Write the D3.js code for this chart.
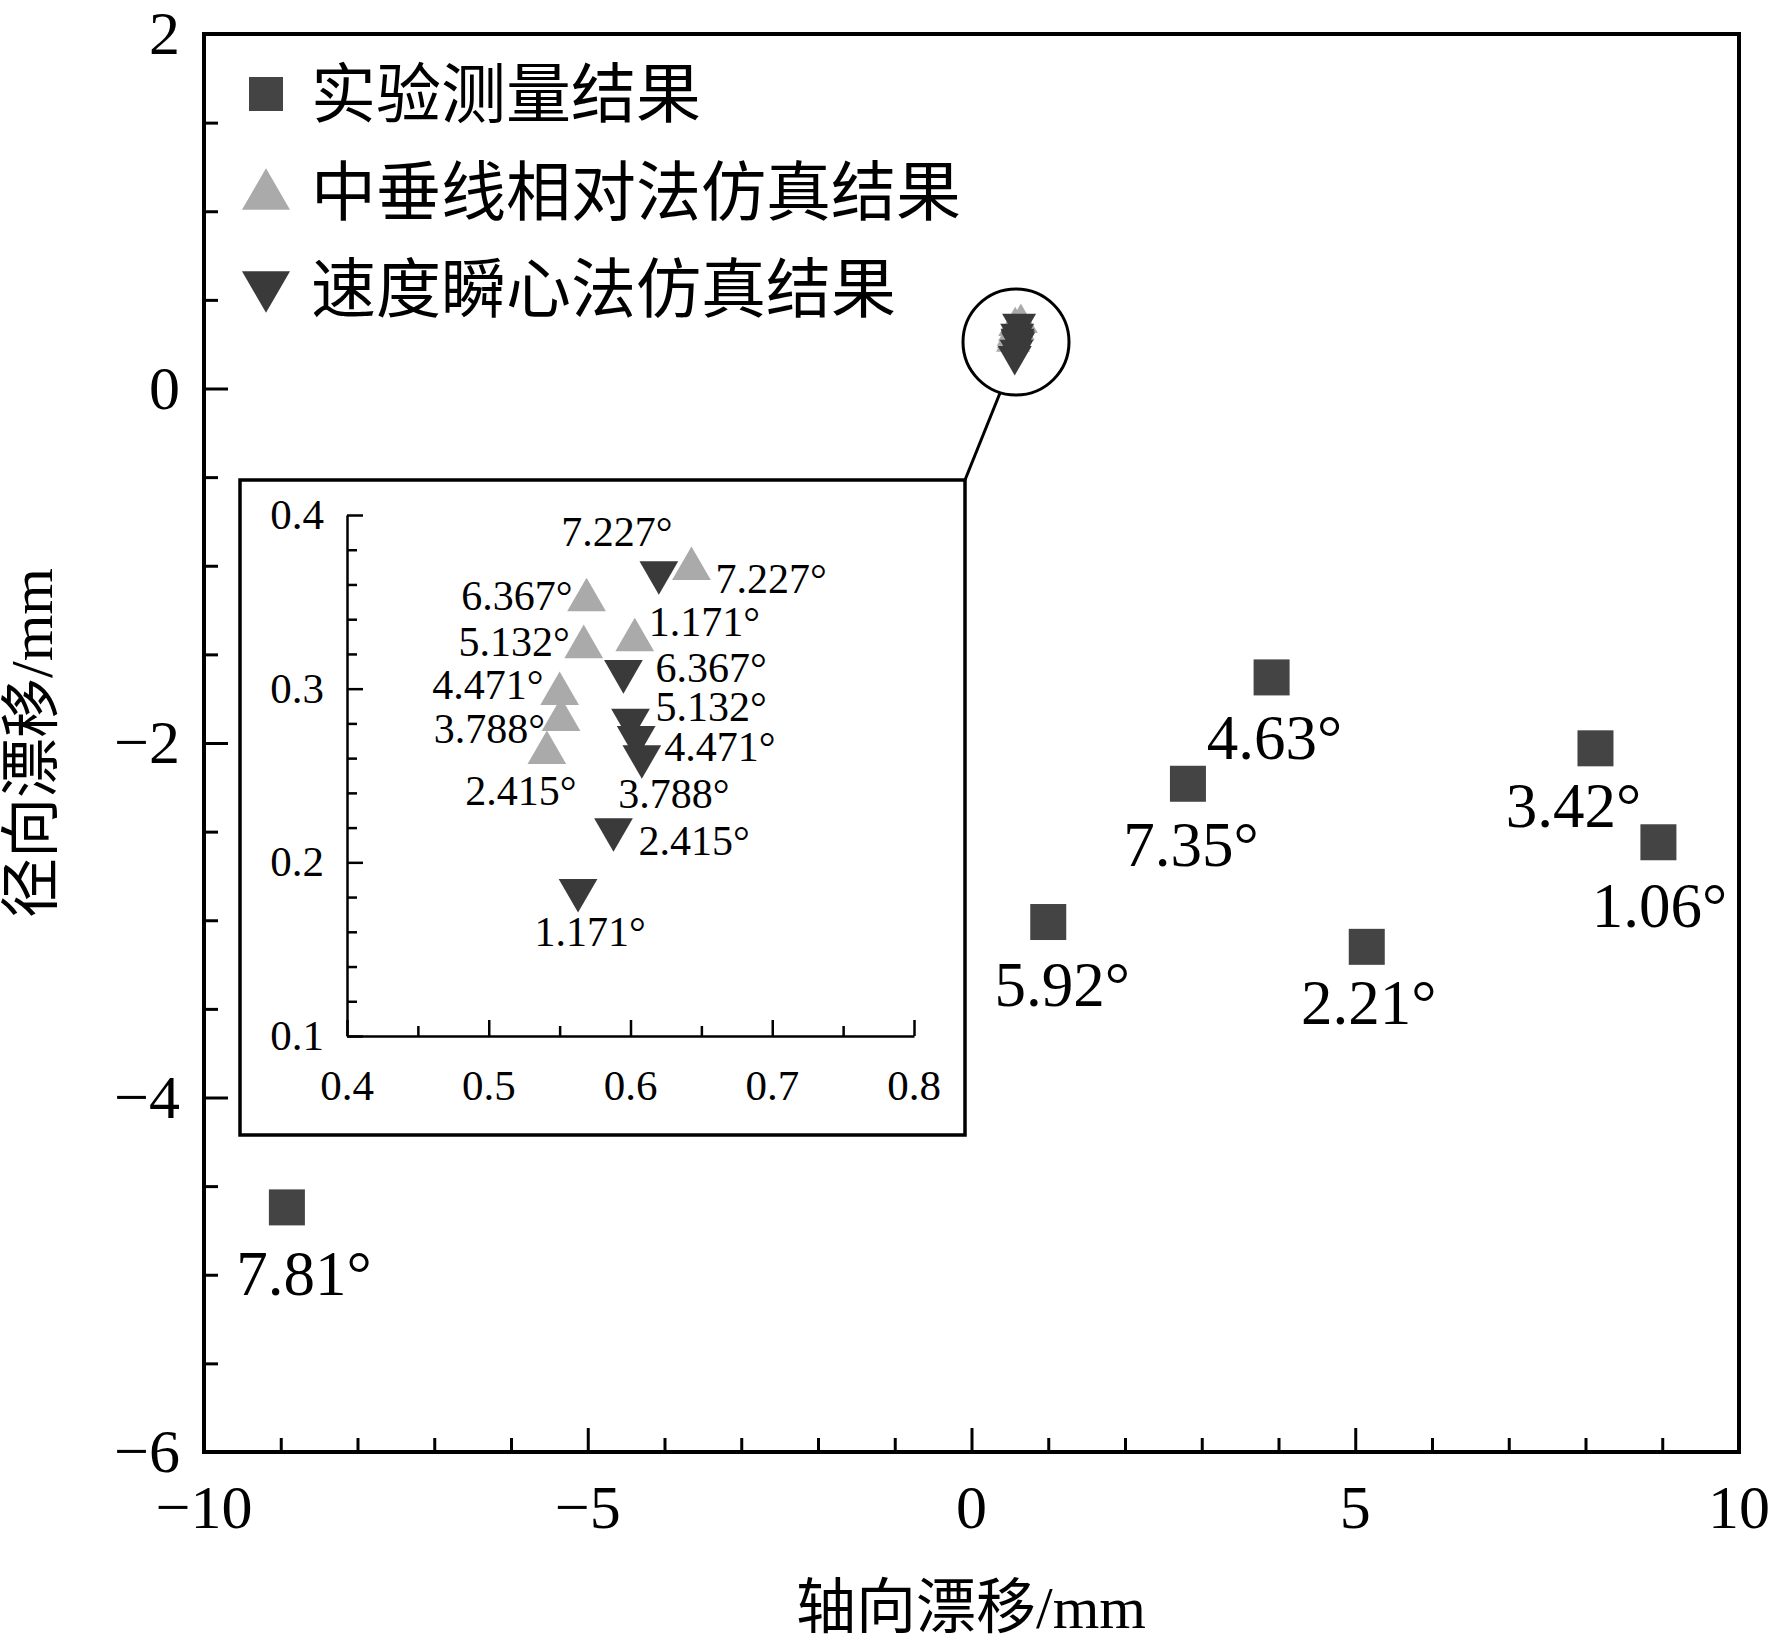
<!DOCTYPE html>
<html><head><meta charset="utf-8">
<script src="https://cdn.jsdelivr.net/npm/d3@7"></script>
<style>body{margin:0;background:#fff}text{font-family:"Liberation Serif","Noto Sans CJK SC",serif}</style>
</head><body><svg id="c" width="1772" height="1646"></svg>
<script>
// measured squares
var expX = [-8.92, 1.0, 2.82, 3.91, 5.15, 8.13, 8.95];
var expY = [-4.62, -3.01, -2.23, -1.63, -3.15, -2.03, -2.56];
var expLab = ["7.81°", "5.92°", "7.35°", "4.63°", "2.21°", "3.42°", "1.06°"];
// perpendicular bisector method (up triangles)
var upX = [0.643, 0.569, 0.603, 0.567, 0.550, 0.551, 0.541];
var upY = [0.369, 0.351, 0.328, 0.324, 0.297, 0.282, 0.263];
var upLab = ["7.227°", "6.367°", "1.171°", "5.132°", "4.471°", "3.788°", "2.415°"];
// instant centre method (down triangles)
var dnX = [0.620, 0.595, 0.600, 0.604, 0.608, 0.588, 0.563];
var dnY = [0.367, 0.310, 0.282, 0.272, 0.261, 0.219, 0.184];
var dnLab = ["7.227°", "6.367°", "5.132°", "4.471°", "3.788°", "2.415°", "1.171°"];
var xTicks = [-10, -5, 0, 5, 10];
var yTicks = [2, 0, -2, -4, -6];
var legendNames = ["实验测量结果", "中垂线相对法仿真结果", "速度瞬心法仿真结果"];

// label offsets (layout only)
var expOff = [[17,66],[14,62],[3,60],[3,60],[2,55],[-22,57],[1,63]];
var upOff = [[24,10,"start"],[-14,-4,"end"],[14,-18,"start"],[-14,-5,"end"],[-16,-9,"end"],[-16,9,"end"],[-26,38,"middle"]];
var dnOff = [[-42,-40,"middle"],[32,-3,"start"],[25,-13,"start"],[28,10,"start"],[32,38,"middle"],[25,12,"start"],[12,42,"middle"]];

var svg = d3.select("#c");
var x = d3.scaleLinear().domain([-10, 10]).range([204, 1739]);
var y = d3.scaleLinear().domain([-6, 2]).range([1452, 34]);

function upTri(s){ return d3.symbol().type(d3.symbolTriangle).size(s)(); }

// main axes
svg.append("g").attr("transform","translate(0,1452)")
  .call(d3.axisBottom(x).tickValues(d3.range(-10,11,1)).tickSize(-24).tickFormat(""))
  .call(function(g){g.selectAll(".tick line").attr("stroke-width",3).attr("y2",function(d){return d%5==0?-24:-14;});});
svg.append("g").attr("transform","translate(204,0)")
  .call(d3.axisLeft(y).tickValues(d3.range(-6,2.01,0.5)).tickSize(-24).tickFormat(""))
  .call(function(g){g.selectAll(".tick line").attr("stroke-width",3).attr("x2",function(d){return d%2==0?24:14;});});
svg.selectAll(".domain").remove();
svg.append("rect").attr("x",204).attr("y",34).attr("width",1535).attr("height",1418)
  .attr("fill","none").attr("stroke","#000").attr("stroke-width",4);
svg.selectAll(".xl").data(xTicks).enter().append("text")
  .attr("x",function(d){return x(d);}).attr("y",1528).attr("text-anchor","middle")
  .attr("font-size",62).text(function(d){return d<0?"\u2212"+(-d):d;});
svg.selectAll(".yl").data(yTicks).enter().append("text")
  .attr("x",180).attr("y",function(d){return y(d)+20;}).attr("text-anchor","end")
  .attr("font-size",62).text(function(d){return d<0?"\u2212"+(-d):d;});
svg.append("text").attr("x",971).attr("y",1628).attr("text-anchor","middle").attr("font-size",60).text("轴向漂移/mm");
svg.append("text").attr("transform","translate(52,743) rotate(-90)").attr("text-anchor","middle").attr("font-size",60).text("径向漂移/mm");

// legend
svg.append("rect").attr("x",249).attr("y",77).attr("width",34).attr("height",34).attr("fill","#444");
svg.append("path").attr("d",upTri(1000)).attr("transform","translate(266,196)").attr("fill","#aaa");
svg.append("path").attr("d",upTri(1000)).attr("transform","translate(266,285) rotate(180)").attr("fill","#3a3a3a");
svg.selectAll(".lt").data(legendNames).enter().append("text")
  .attr("x",311).attr("y",function(d,i){return [94,192,289][i]+23;}).attr("font-size",65).text(function(d){return d;});

// squares
svg.selectAll(".sq").data(expX).enter().append("rect")
  .attr("x",function(d){return x(d)-18;}).attr("y",function(d,i){return y(expY[i])-18;})
  .attr("width",36).attr("height",36).attr("fill","#444");
svg.selectAll(".sql").data(expLab).enter().append("text")
  .attr("x",function(d,i){return x(expX[i])+expOff[i][0];}).attr("y",function(d,i){return y(expY[i])+expOff[i][1]+22;})
  .attr("text-anchor","middle").attr("font-size",63).text(function(d){return d;});

// cluster in main plot
upX.forEach(function(v,i){ svg.append("path").attr("d",upTri(500)).attr("transform","translate("+x(v)+","+y(upY[i])+")").attr("fill","#aaa"); });
dnX.forEach(function(v,i){ svg.append("path").attr("d",upTri(500)).attr("transform","translate("+x(v)+","+y(dnY[i])+") rotate(180)").attr("fill","#3a3a3a"); });
svg.append("circle").attr("cx",1016).attr("cy",342).attr("r",53).attr("fill","none").attr("stroke","#000").attr("stroke-width",3);
svg.append("line").attr("x1",1000).attr("y1",393).attr("x2",965).attr("y2",480).attr("stroke","#000").attr("stroke-width",3);

// inset
svg.append("rect").attr("x",240).attr("y",480).attr("width",725).attr("height",655)
  .attr("fill","#fff").attr("stroke","#000").attr("stroke-width",3.5);
var ix = d3.scaleLinear().domain([0.4, 0.8]).range([347, 914]);
var iy = d3.scaleLinear().domain([0.1, 0.4]).range([1036, 515]);
var gx = svg.append("g").attr("transform","translate(0,1036)")
  .call(d3.axisBottom(ix).tickValues(d3.range(0.4,0.801,0.05)).tickSize(0).tickFormat(""));
gx.selectAll(".tick line").attr("stroke-width",2.5).attr("y2",function(d,i){return i%2==0?-16:-10;});
var gy = svg.append("g").attr("transform","translate(347,0)")
  .call(d3.axisLeft(iy).tickValues(d3.range(0.1,0.401,0.02)).tickSize(0).tickFormat(""));
gy.selectAll(".tick line").attr("stroke-width",2.5).attr("x2",function(d,i){return i%5==0?16:10;});
svg.selectAll(".domain").attr("stroke-width",2.5).attr("stroke","#000");
svg.selectAll(".ixl").data([0.4,0.5,0.6,0.7,0.8]).enter().append("text")
  .attr("x",function(d){return ix(d);}).attr("y",1100).attr("text-anchor","middle").attr("font-size",43).text(function(d){return d.toFixed(1);});
svg.selectAll(".iyl").data([0.1,0.2,0.3,0.4]).enter().append("text")
  .attr("x",324).attr("y",function(d){return iy(d)+14;}).attr("text-anchor","end").attr("font-size",43).text(function(d){return d.toFixed(1);});

upX.forEach(function(v,i){
  svg.append("path").attr("d",upTri(650)).attr("transform","translate("+ix(v)+","+iy(upY[i])+")").attr("fill","#aaa");
  svg.append("text").attr("x",ix(v)+upOff[i][0]).attr("y",iy(upY[i])+upOff[i][1]+14).attr("text-anchor",upOff[i][2])
    .attr("font-size",42).text(upLab[i]);
});
dnX.forEach(function(v,i){
  svg.append("path").attr("d",upTri(650)).attr("transform","translate("+ix(v)+","+iy(dnY[i])+") rotate(180)").attr("fill","#3a3a3a");
  svg.append("text").attr("x",ix(v)+dnOff[i][0]).attr("y",iy(dnY[i])+dnOff[i][1]+14).attr("text-anchor",dnOff[i][2])
    .attr("font-size",42).text(dnLab[i]);
});
</script></body></html>
